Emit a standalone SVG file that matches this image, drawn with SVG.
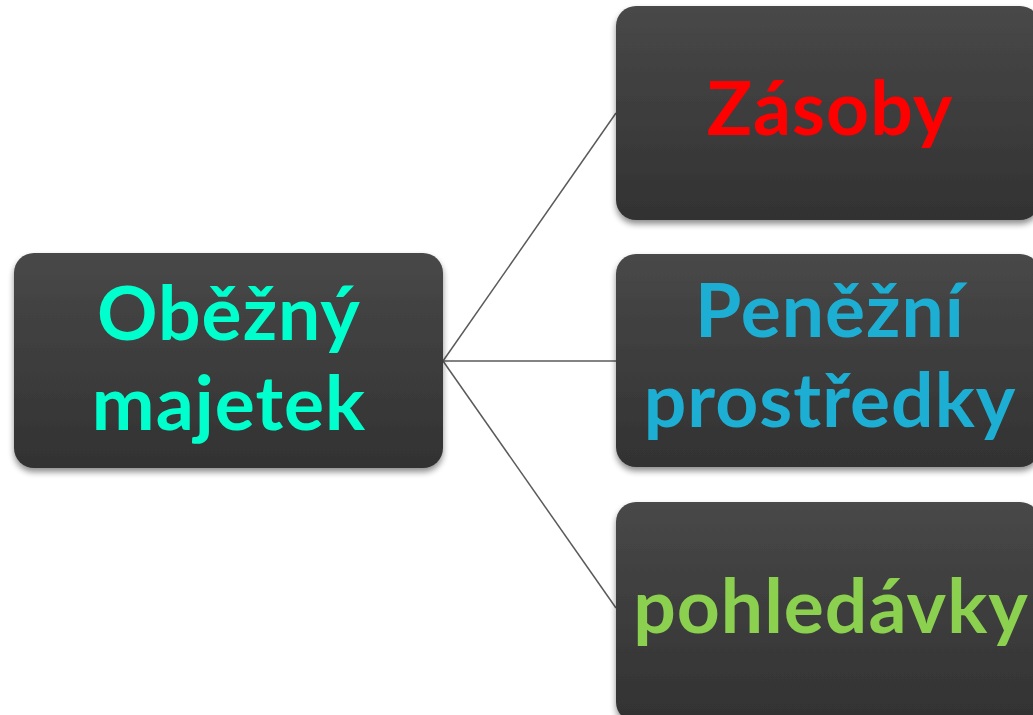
<svg xmlns="http://www.w3.org/2000/svg" width="1033" height="715" viewBox="0 0 1033 715">
<defs>
<linearGradient id="g" x1="0" y1="0" x2="0" y2="1">
<stop offset="0" stop-color="#484848"/>
<stop offset="1" stop-color="#323232"/>
</linearGradient>
<filter id="sh" x="-10%" y="-10%" width="120%" height="130%">
<feGaussianBlur in="SourceAlpha" stdDeviation="3"/>
<feOffset dx="0" dy="4" result="b"/>
<feComponentTransfer><feFuncA type="linear" slope="0.45"/></feComponentTransfer>
<feMerge><feMergeNode/><feMergeNode in="SourceGraphic"/></feMerge>
</filter>
</defs>
<style>
.box{fill:url(#g);filter:url(#sh)}
.t{font-family:Lato,"Open Sans",sans-serif;font-weight:bold;font-size:75px;letter-spacing:1px;text-anchor:middle}
.c{stroke:#5a5a5a;stroke-width:1.5;fill:none}
</style>
<rect width="1033" height="715" fill="#fff"/>
<g id="connectors">
<line class="c" x1="443" y1="361" x2="616" y2="113"/>
<line class="c" x1="443" y1="361" x2="616" y2="361"/>
<line class="c" x1="443" y1="361" x2="616" y2="608"/>
</g>
<g id="n-obezny">
<rect class="box" x="14" y="253" width="429" height="215" rx="20"/>
<text class="t" x="229" y="340" fill="#00FFCC">Oběžný</text>
<text class="t" x="229" y="430" fill="#00FFCC">majetek</text>
</g>
<g id="n-zasoby">
<rect class="box" x="616" y="6" width="424" height="214" rx="20"/>
<text class="t" x="830" y="135" fill="#FF0000">Zásoby</text>
</g>
<g id="n-penezni">
<rect class="box" x="616" y="254" width="424" height="213" rx="20"/>
<text class="t" x="830" y="337" fill="#1DAFD3">Peněžní</text>
<text class="t" x="830" y="427" fill="#1DAFD3">prostředky</text>
</g>
<g id="n-pohledavky">
<rect class="box" x="616" y="502" width="424" height="220" rx="20"/>
<text class="t" x="831" y="633" fill="#8BD04E">pohledávky</text>
</g>
</svg>
